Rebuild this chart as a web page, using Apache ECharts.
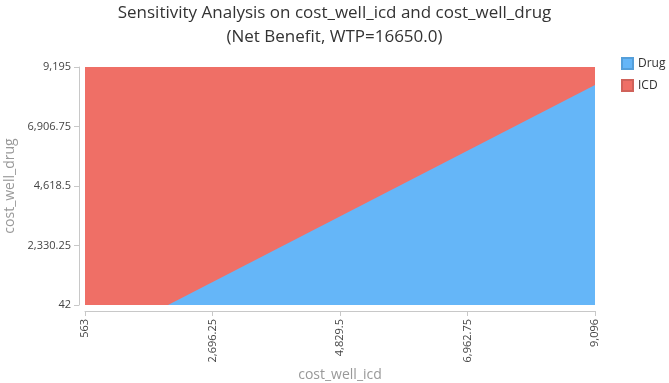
<!DOCTYPE html>
<html>
<head>
<meta charset="utf-8">
<script src="https://cdn.jsdelivr.net/npm/echarts@6/dist/echarts.min.js"></script>
<style>
  html, body { margin: 0; padding: 0; background: #fff; }
  #chart { width: 669px; height: 383px; }
</style>
</head>
<body>
<div id="chart"></div>
<script>
var legendNames = ['Drug', 'ICD'];
var xRange = [563, 9096];
var yRange = [42, 9195];
var xTicks = [563, 2696.25, 4829.5, 6962.75, 9096];
var yTicks = [42, 2330.25, 4618.5, 6906.75, 9195];
// boundary where Drug and ICD have equal net benefit
var boundaryX = [1952, 9096];
var boundaryY = [42, 8503];

function fmt(v) {
  return Number(v).toLocaleString('en-US', { maximumFractionDigits: 2 });
}

var chart = echarts.init(document.getElementById('chart'));

var axisColor = '#c8c8c8';
var labelColor = '#444';
var fontFamily = '"Open Sans", "Noto Sans", sans-serif';

var option = {
  animation: false,
  textStyle: { fontFamily: fontFamily },
  title: {
    text: 'Sensitivity Analysis on cost_well_icd and cost_well_drug\n(Net Benefit, WTP=16650.0)',
    left: 'center',
    top: 1,
    padding: 0,
    textStyle: {
      fontSize: 17,
      fontWeight: 'normal',
      color: '#333',
      lineHeight: 24,
      fontFamily: fontFamily
    }
  },
  legend: {
    data: legendNames,
    orient: 'vertical',
    left: 621,
    top: 57,
    padding: 0,
    itemWidth: 11,
    itemHeight: 11,
    itemGap: 9,
    icon: 'rect',
    textStyle: { fontSize: 12, color: '#333' }
  },
  grid: {
    left: 85,
    right: 74,
    top: 67,
    bottom: 78,
    containLabel: false,
    outerBoundsMode: 'none'
  },
  xAxis: {
    type: 'value',
    min: xRange[0],
    max: xRange[1],
    offset: 6,
    name: 'cost_well_icd',
    nameLocation: 'middle',
    nameGap: 57,
    nameMoveOverlap: false,
    nameTextStyle: { fontSize: 14, color: '#999' },
    axisLine: { show: true, lineStyle: { color: axisColor } },
    axisTick: { show: true, customValues: xTicks, length: 5, lineStyle: { color: axisColor } },
    axisLabel: {
      customValues: xTicks,
      rotate: 90,
      fontSize: 11,
      color: labelColor,
      formatter: fmt
    },
    splitLine: { show: false }
  },
  yAxis: {
    type: 'value',
    min: yRange[0],
    max: yRange[1],
    offset: 6,
    name: 'cost_well_drug',
    nameLocation: 'middle',
    nameGap: 62,
    nameMoveOverlap: false,
    nameTextStyle: { fontSize: 14, color: '#999' },
    axisLine: { show: true, lineStyle: { color: axisColor } },
    axisTick: { show: true, customValues: yTicks, length: 5, lineStyle: { color: axisColor } },
    axisLabel: {
      customValues: yTicks,
      fontSize: 11,
      color: labelColor,
      formatter: fmt
    },
    splitLine: { show: false }
  },
  series: [
    {
      name: 'ICD',
      type: 'line',
      data: [[xRange[0], yRange[1]], [xRange[1], yRange[1]]],
      symbol: 'none',
      lineStyle: { width: 0 },
      itemStyle: { color: '#ef6f66', borderColor: '#d0625a', borderWidth: 1 },
      areaStyle: { color: '#ef6f66', opacity: 1, origin: 'start' },
      z: 1
    },
    {
      name: 'Drug',
      type: 'line',
      data: boundaryX.map(function (x, i) { return [x, boundaryY[i]]; }),
      symbol: 'none',
      lineStyle: { width: 0 },
      itemStyle: { color: '#65b6f8', borderColor: '#559fda', borderWidth: 1 },
      areaStyle: { color: '#65b6f8', opacity: 1, origin: 'start' },
      z: 2
    }
  ]
};

chart.setOption(option);
window.addEventListener('resize', function () {
  chart.resize();
});
</script>
</body>
</html>
